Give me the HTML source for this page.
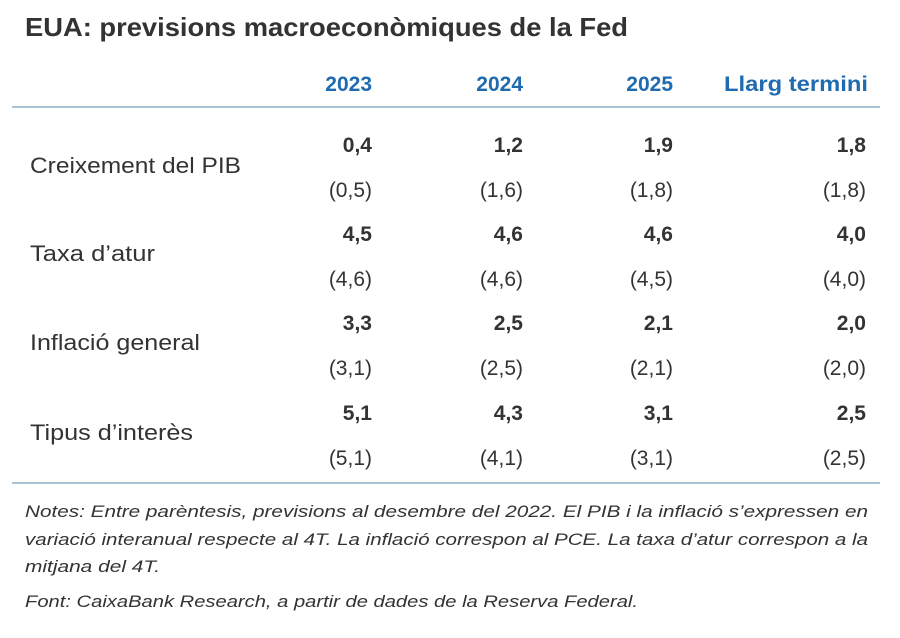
<!DOCTYPE html>
<html><head><meta charset="utf-8"><style>
html,body{margin:0;padding:0;background:#fff;width:900px;height:638px;overflow:hidden}
svg{display:block}
text{font-family:"Liberation Sans",sans-serif}
.v{font-size:21px;fill:#333;font-weight:bold}
.p{font-size:21px;fill:#333}
.l{font-size:22px;fill:#333}
.h{font-size:21px;fill:#1f6bb0;font-weight:bold}
.n{font-size:16.5px;fill:#333;font-style:italic}
</style></head><body>
<svg width="900" height="638" viewBox="0 0 900 638">
<text x="25" y="36" font-size="26" font-weight="bold" fill="#333" textLength="603" lengthAdjust="spacingAndGlyphs">EUA: previsions macroeconòmiques de la Fed</text>
<g class="h" text-anchor="end">
<text x="372" y="91">2023</text><text x="523" y="91">2024</text><text x="673" y="91">2025</text>
<text x="868" y="91" textLength="144" lengthAdjust="spacingAndGlyphs">Llarg termini</text>
</g>
<line x1="12" y1="107" x2="880" y2="107" stroke="#a9c4d6" stroke-width="2"/>
<line x1="12" y1="483" x2="880" y2="483" stroke="#a9c4d6" stroke-width="2"/>
<g class="l">
<text x="30" y="173" textLength="211" lengthAdjust="spacingAndGlyphs">Creixement del PIB</text>
<text x="30" y="261" textLength="125" lengthAdjust="spacingAndGlyphs">Taxa d’atur</text>
<text x="30" y="350" textLength="170" lengthAdjust="spacingAndGlyphs">Inflació general</text>
<text x="30" y="440" textLength="163" lengthAdjust="spacingAndGlyphs">Tipus d’interès</text>
</g>
<g text-anchor="end">
<g class="v">
<text x="372" y="152">0,4</text><text x="523" y="152">1,2</text><text x="673" y="152">1,9</text><text x="866" y="152">1,8</text>
<text x="372" y="241">4,5</text><text x="523" y="241">4,6</text><text x="673" y="241">4,6</text><text x="866" y="241">4,0</text>
<text x="372" y="330">3,3</text><text x="523" y="330">2,5</text><text x="673" y="330">2,1</text><text x="866" y="330">2,0</text>
<text x="372" y="420">5,1</text><text x="523" y="420">4,3</text><text x="673" y="420">3,1</text><text x="866" y="420">2,5</text>
</g>
<g class="p">
<text x="372" y="197">(0,5)</text><text x="523" y="197">(1,6)</text><text x="673" y="197">(1,8)</text><text x="866" y="197">(1,8)</text>
<text x="372" y="286">(4,6)</text><text x="523" y="286">(4,6)</text><text x="673" y="286">(4,5)</text><text x="866" y="286">(4,0)</text>
<text x="372" y="375">(3,1)</text><text x="523" y="375">(2,5)</text><text x="673" y="375">(2,1)</text><text x="866" y="375">(2,0)</text>
<text x="372" y="465">(5,1)</text><text x="523" y="465">(4,1)</text><text x="673" y="465">(3,1)</text><text x="866" y="465">(2,5)</text>
</g>
</g>
<g class="n">
<text x="25" y="517" textLength="843" lengthAdjust="spacingAndGlyphs">Notes: Entre parèntesis, previsions al desembre del 2022. El PIB i la inflació s’expressen en</text>
<text x="25" y="545" textLength="843" lengthAdjust="spacingAndGlyphs">variació interanual respecte al 4T. La inflació correspon al PCE. La taxa d’atur correspon a la</text>
<text x="25" y="572" textLength="135" lengthAdjust="spacingAndGlyphs">mitjana del 4T.</text>
<text x="25" y="607" textLength="613" lengthAdjust="spacingAndGlyphs">Font: CaixaBank Research, a partir de dades de la Reserva Federal.</text>
</g>
</svg>
</body></html>
